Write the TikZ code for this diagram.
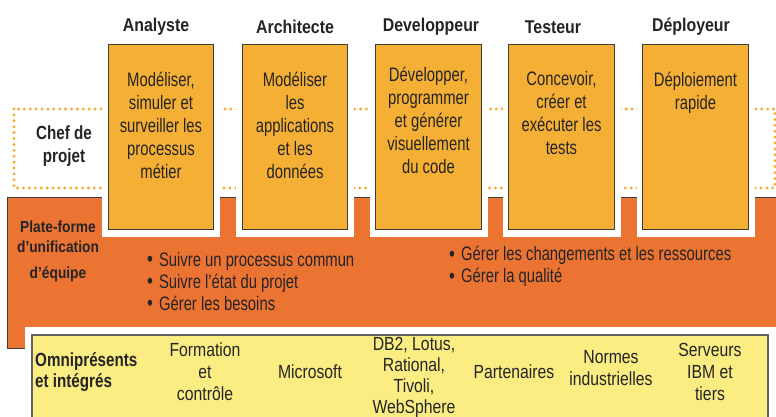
\documentclass[tikz,border=0pt]{standalone}
\usepackage{fontspec}
\setmainfont{Liberation Sans}
\newfontfamily\condr[FakeStretch=0.76]{Liberation Sans}
\newfontfamily\condbot[FakeStretch=0.83]{Liberation Sans}
\newfontfamily\condb[FakeStretch=0.86]{Liberation Sans}
\newfontfamily\condbs[FakeStretch=0.8]{Liberation Sans}
\definecolor{boxfill}{HTML}{F5AF35}
\definecolor{plat}{HTML}{EC7433}
\definecolor{basefill}{HTML}{FCED82}
\definecolor{edgec}{HTML}{3C3C3C}
\definecolor{txt}{HTML}{242424}
\definecolor{dotc}{HTML}{F4AE35}
\newcommand{\bul}{{\fontsize{22}{22}\selectfont\raisebox{-0.5pt}{•}}\hspace{6pt}}
\tikzset{
  rolebox/.style={draw=edgec, line width=1pt, fill=boxfill, minimum width=105.5pt, minimum height=185pt, inner sep=0pt},
  boxtxt/.style={font=\condr\fontsize{19.5}{23}\selectfont, text=txt, align=center, inner sep=0pt},
  bullettxt/.style={font=\condr\fontsize{19.5}{22}\selectfont, text=txt, align=left, inner sep=0pt},
  bottxt/.style={font=\condbot\fontsize{19}{22}\selectfont, text=txt, align=center, inner sep=0pt},
  titletxt/.style={font=\condb\bfseries\fontsize{18.5}{22}\selectfont, text=txt, inner sep=0pt},
  sidetxt/.style={font=\condbs\bfseries\fontsize{19}{23}\selectfont, text=txt, align=center, inner sep=0pt},
  dotline/.style={draw=dotc, line width=3.3pt, line cap=round, dash pattern=on 0pt off 5.9pt},
}
\begin{document}
\begin{tikzpicture}[x=1pt,y=-1pt]
\useasboundingbox (0,0) rectangle (776,416);
\clip (0,0) rectangle (776,416);
% dotted rectangle (Chef de projet)
\draw[dotline] (14,109) rectangle (775,188);
% orange platform
\fill[plat, draw=edgec, line width=0.8pt] (7,197) rectangle (790,348);
% white cut-outs
\foreach \c in {161,295,428.5,561.5,695.5}{
  \fill[white] (\c-59,38) rectangle (\c+59,237);
}
\fill[white] (25,327) rectangle (790,430);
% yellow base
\fill[basefill, draw=edgec!80, line width=1.2pt] (32,335) rectangle (768,440);
% role boxes
\node[rolebox] (b1) at (161,136.5) {};
\node[rolebox] (b2) at (295,136.5) {};
\node[rolebox] (b3) at (428.5,136.5) {};
\node[rolebox] (b4) at (561.5,136.5) {};
\node[rolebox] (b5) at (695.5,136.5) {};
% titles
\node[titletxt] (h1) at (156,27) {Analyste};
\node[titletxt] (h2) at (295,27) {Architecte};
\node[titletxt] (h3) at (431,27) {Developpeur};
\node[titletxt] (h4) at (553,27) {Testeur};
\node[titletxt] (h5) at (691,27) {Déployeur};
% box texts
\node[boxtxt] (t1) at (161,125) {Modéliser,\\simuler et\\surveiller les\\processus\\métier};
\node[boxtxt] (t2) at (295,125) {Modéliser\\les\\applications\\et les\\données};
\node[boxtxt] (t3) at (428.5,120) {Développer,\\programmer\\et générer\\visuellement\\du code};
\node[boxtxt] (t4) at (561.5,113) {Concevoir,\\créer et\\exécuter les\\tests};
\node[boxtxt] (t5) at (695.5,93) {Déploiement\\rapide};
% side labels
\node[sidetxt] (chef) at (64,146) {Chef de\\projet};
\node[sidetxt, font=\condb\bfseries\fontsize{16}{20}\selectfont] (plat) at (58,251) {Plate-forme\\d’unification\\[6pt]d’équipe};
% bullets
\node[bullettxt, anchor=west] (bl) at (147,281.5) {\bul Suivre un processus commun\\\bul Suivre l’état du projet\\\bul Gérer les besoins};
\node[bullettxt, anchor=west] (br) at (449,266.5) {\bul Gérer les changements et les ressources\\\bul Gérer la qualité};
% bottom row
\node[sidetxt, font=\condbs\bfseries\fontsize{19}{21}\selectfont, align=left, anchor=west] (omni) at (35,372.5) {Omniprésents\\et intégrés};
\node[bottxt] (f1) at (205,372) {Formation\\et\\contrôle};
\node[bottxt] (f2) at (310,372) {Microsoft};
\node[bottxt, font=\condbot\fontsize{19}{21}\selectfont] (f3) at (414,377) {DB2, Lotus,\\Rational,\\Tivoli,\\WebSphere};
\node[bottxt] (f4) at (514,372) {Partenaires};
\node[bottxt] (f5) at (611,368) {Normes\\industrielles};
\node[bottxt] (f6) at (710,372) {Serveurs\\IBM et\\tiers};
\end{tikzpicture}
\end{document}
